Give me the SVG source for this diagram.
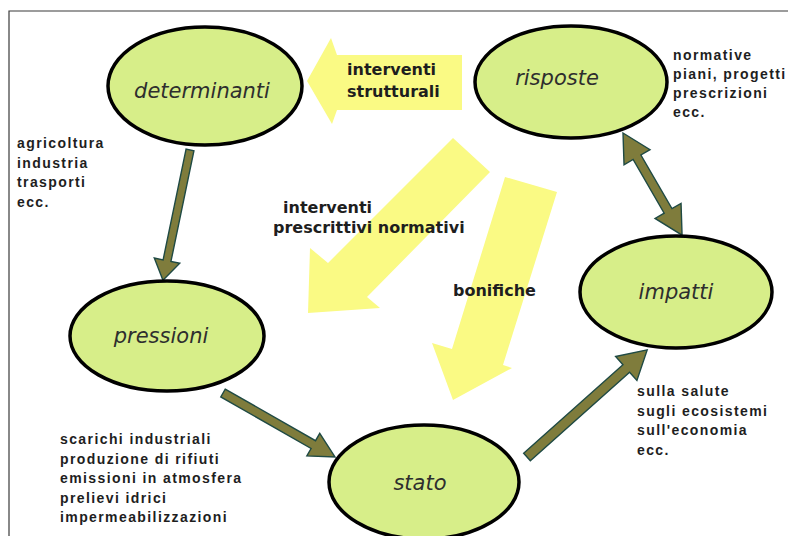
<svg xmlns="http://www.w3.org/2000/svg" width="788" height="536" viewBox="0 0 788 536">
<style>
.frame{fill:none;stroke:#3a3a3a;stroke-width:1.2}
.node{fill:#d7ee89;stroke:#000;stroke-width:3.5}
.nlabel{font-family:"DejaVu Sans",sans-serif;font-style:italic;font-size:21px;fill:#2e2e2e;text-anchor:middle}
.big{fill:#fafa84}
.blabel{font-family:"DejaVu Sans",sans-serif;font-weight:bold;font-size:16px;fill:#1e1e1e}
.olive{fill:#7f7c3c;stroke:#1f4a44;stroke-width:1.4;stroke-linejoin:miter}
.side{font-family:"Liberation Sans",Arial,sans-serif;font-weight:bold;font-size:14px;letter-spacing:1.4px;fill:#1e1e1e}
</style>
<rect width="788" height="536" fill="#ffffff"/>
<path class="frame" d="M9,536 V11 H788"/>

<g id="connectors">
  <polygon class="big" points="462,55 337,55 331,38 307,81 332,124 337,110 462,110"/>
  <polygon class="big" points="453,138 490,172 367,297 380,308 308,313 310,248 328,263"/>
  <polygon class="big" points="505,177 557,192 503,365 512,368 453,400 432,343 452,349"/>
  <text class="blabel" x="347" y="75">interventi</text>
  <text class="blabel" x="347" y="97">strutturali</text>
  <text class="blabel" x="283" y="213" font-size="17">interventi</text>
  <text class="blabel" x="273" y="233" font-size="17">prescrittivi normativi</text>
  <text class="blabel" x="453" y="296">bonifiche</text>
  <polygon class="olive" transform="translate(190,150) rotate(101.73)" points="0,-4 113,-4 113,-13 133,0 113,13 113,4 0,4"/>
  <polygon class="olive" transform="translate(223,393) rotate(29.74)" points="0,-4.5 104,-4.5 104,-13 129,0 104,13 104,4.5 0,4.5"/>
  <polygon class="olive" transform="translate(527,457) rotate(-41.72)" points="0,-5 133,-5 133,-16 161,0 133,16 133,5 0,5"/>
  <polygon class="olive" transform="translate(623,133) rotate(59.96)" points="0,0 28,-15 28,-4.5 90,-4.5 90,-15 118,0 90,15 90,4.5 28,4.5 28,15"/>
</g>

<g id="determinanti">
  <ellipse class="node" cx="205" cy="86" rx="97" ry="59"/>
  <text class="nlabel" x="202" y="98">determinanti</text>
  <text class="side" x="17" y="148">agricoltura</text>
  <text class="side" x="17" y="167.5">industria</text>
  <text class="side" x="17" y="187">trasporti</text>
  <text class="side" x="17" y="206.5">ecc.</text>
</g>
<g id="risposte">
  <ellipse class="node" cx="571" cy="82" rx="96" ry="56"/>
  <text class="nlabel" x="557" y="85">risposte</text>
  <text class="side" x="673" y="60">normative</text>
  <text class="side" x="673" y="79">piani, progetti</text>
  <text class="side" x="673" y="98">prescrizioni</text>
  <text class="side" x="673" y="117">ecc.</text>
</g>
<g id="pressioni">
  <ellipse class="node" cx="167" cy="336" rx="97" ry="55"/>
  <text class="nlabel" x="161" y="343">pressioni</text>
  <text class="side" x="60" y="444">scarichi industriali</text>
  <text class="side" x="60" y="463.5">produzione di rifiuti</text>
  <text class="side" x="60" y="483">emissioni in atmosfera</text>
  <text class="side" x="60" y="502.5">prelievi idrici</text>
  <text class="side" x="60" y="522">impermeabilizzazioni</text>
</g>
<g id="stato">
  <ellipse class="node" cx="424" cy="482" rx="95" ry="57"/>
  <text class="nlabel" x="420" y="490">stato</text>
</g>
<g id="impatti">
  <ellipse class="node" cx="676" cy="292" rx="96" ry="56"/>
  <text class="nlabel" x="676" y="299">impatti</text>
  <text class="side" x="637" y="396">sulla salute</text>
  <text class="side" x="637" y="415.5">sugli ecosistemi</text>
  <text class="side" x="637" y="435">sull'economia</text>
  <text class="side" x="637" y="454.5">ecc.</text>
</g>
</svg>
